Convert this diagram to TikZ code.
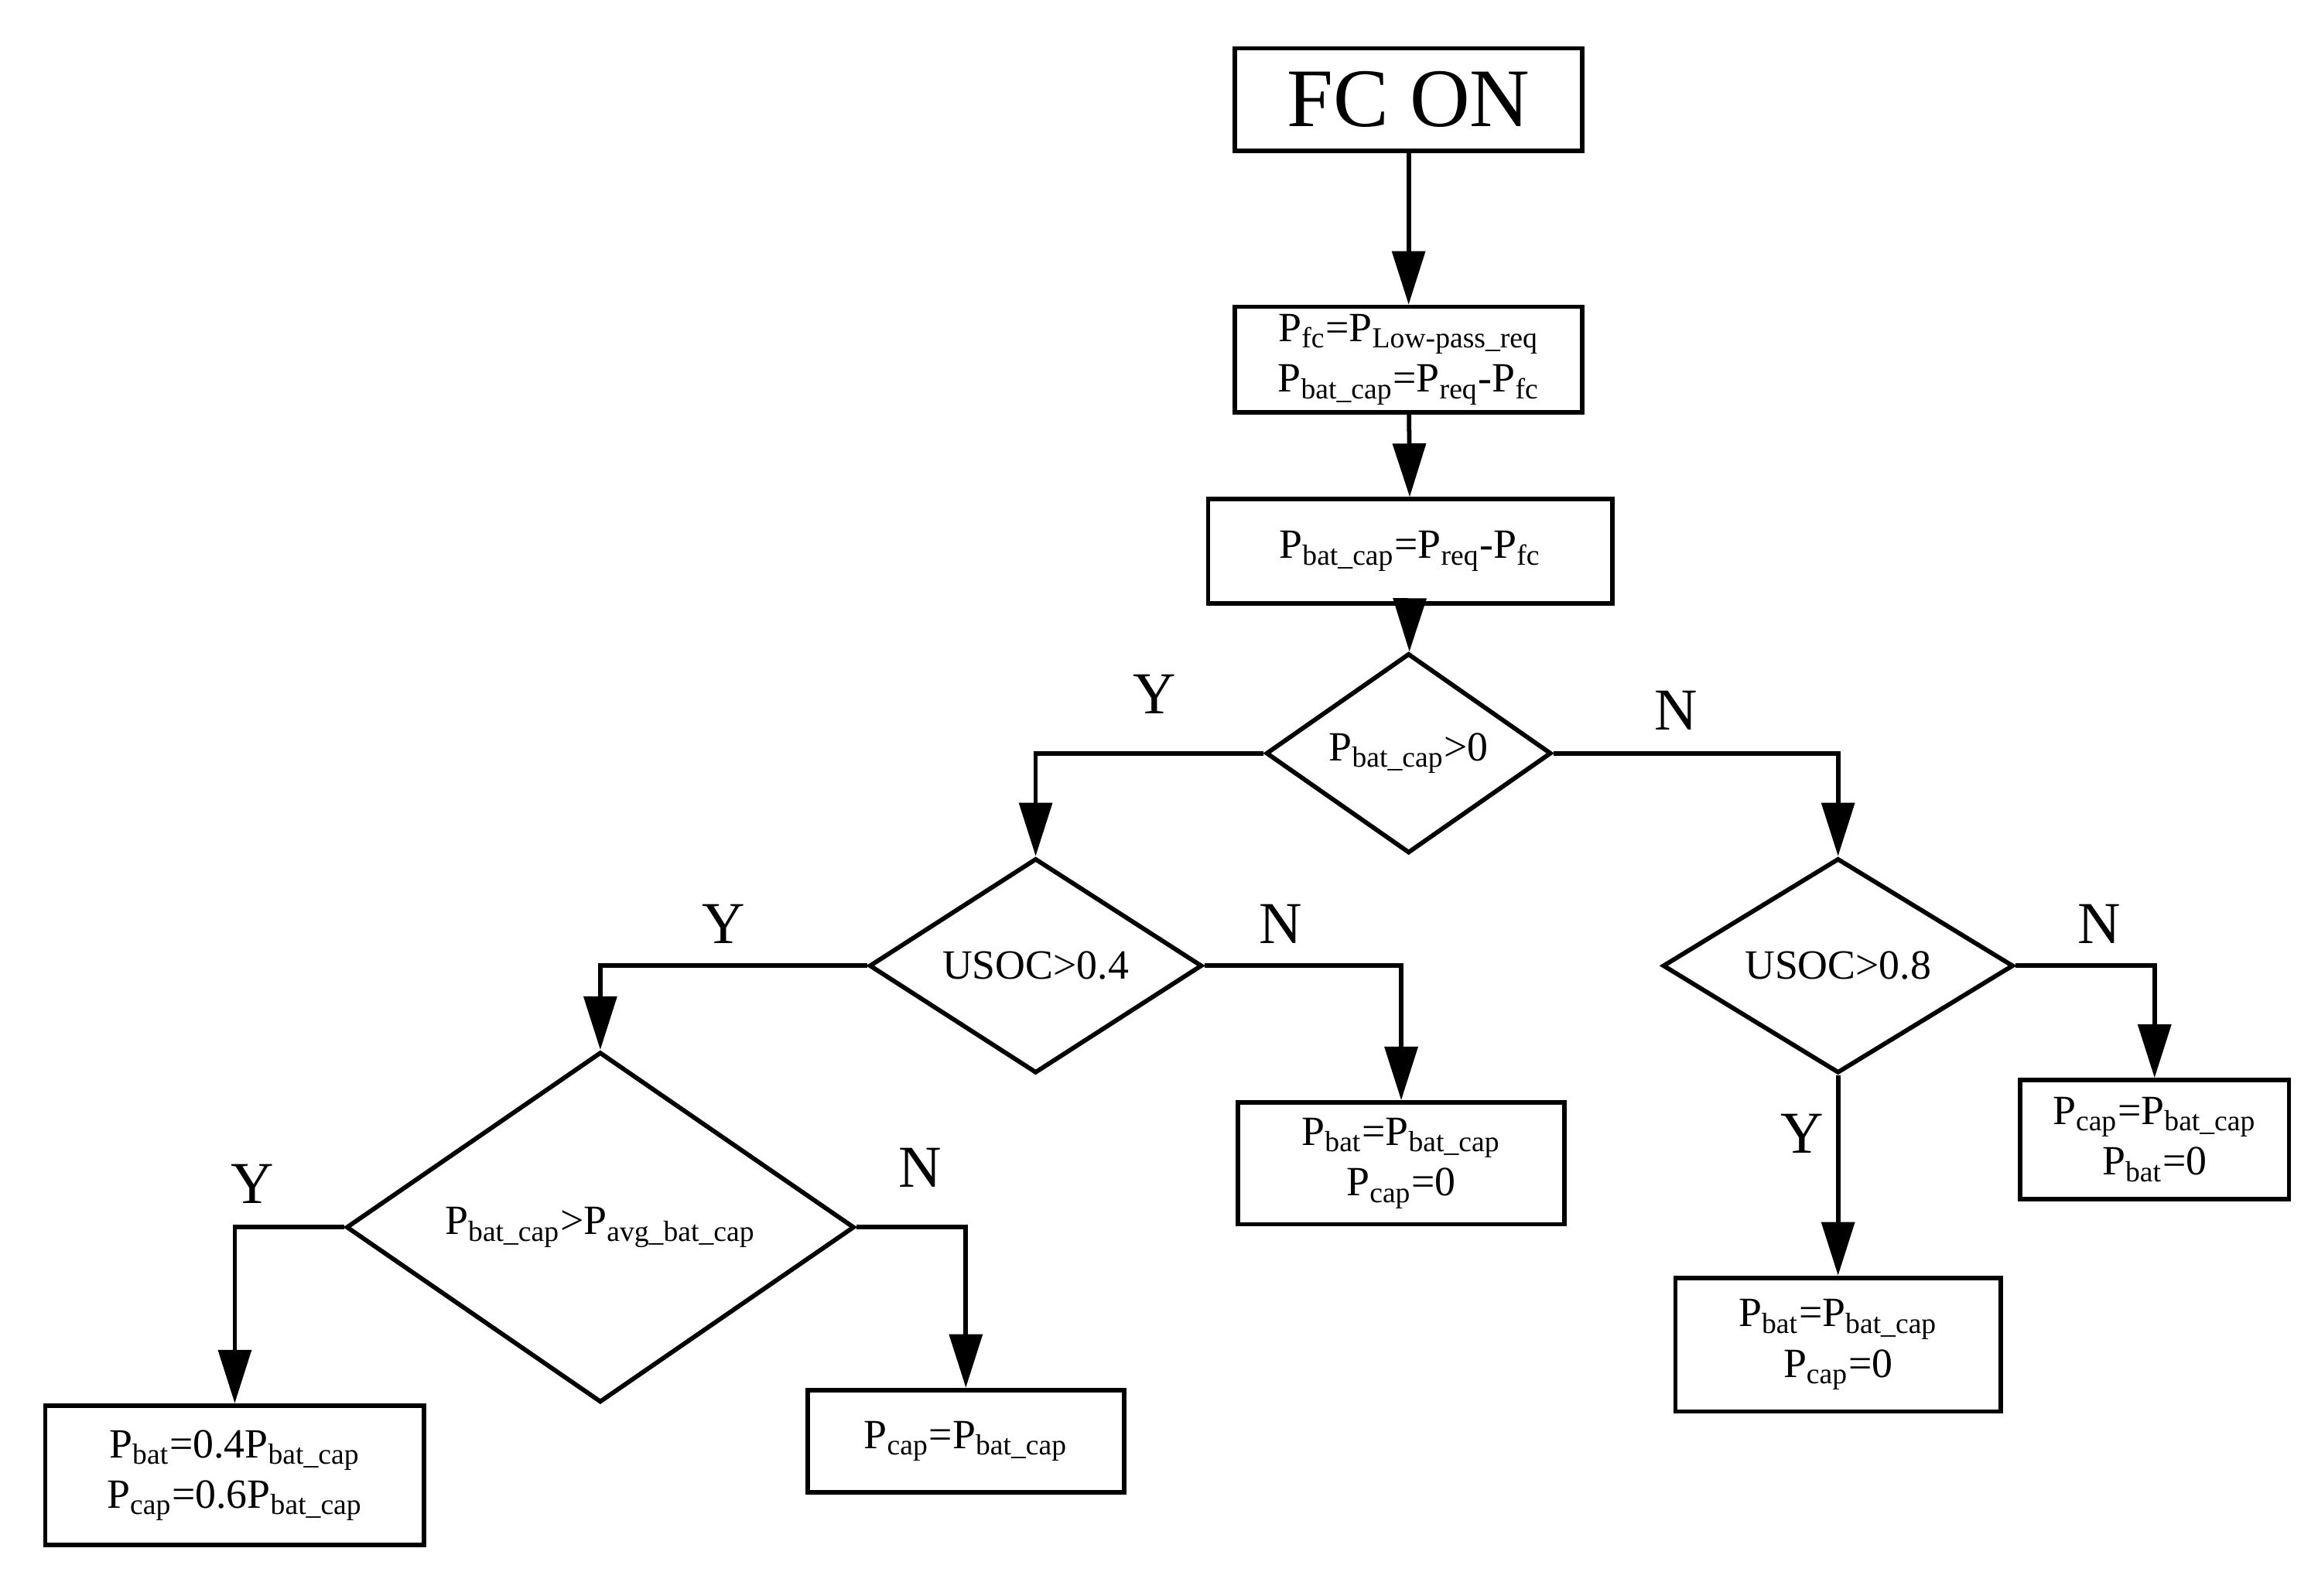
\documentclass[tikz,border=0pt]{standalone}
\usepackage{fontspec}
\setmainfont{Liberation Serif}
\usetikzlibrary{shapes.geometric,arrows.meta}
\newcommand{\sub}[1]{\textsubscript{#1}}
\begin{document}
\begin{tikzpicture}[x=0.5pt,y=-0.5pt,
  box/.style={draw,line width=1.5pt,inner sep=0pt,align=center,font=\fontsize{14}{17}\selectfont},
  dia/.style={draw,diamond,line width=1.5pt,inner sep=0pt,font=\fontsize{14}{17}\selectfont},
  arr/.style={line width=1.5pt,-{Triangle[length=18pt,width=11pt]}},
  lab/.style={font=\fontsize{20}{24}\selectfont}]
\useasboundingbox (0,0) rectangle (1560,1074);
\node[box,minimum width=117pt,minimum height=34.5pt,font=\fontsize{28}{32}\selectfont] (fc) at (948,67) {FC ON};
\node[box,minimum width=117pt,minimum height=35.5pt] (b2) at (948,242) {P\sub{fc}=P\sub{Low-pass\_req}\\P\sub{bat\_cap}=P\sub{req}-P\sub{fc}};
\node[box,minimum width=136pt,minimum height=35pt] (b3) at (949,371) {P\sub{bat\_cap}=P\sub{req}-P\sub{fc}};
\node[dia,minimum width=96pt,minimum height=54.5pt] (d1) at (948,507) {P\sub{bat\_cap}>0};
\node[dia,minimum width=112pt,minimum height=66pt] (d2) at (697,650) {USOC>0.4};
\node[dia,minimum width=118pt,minimum height=66pt] (d3) at (1237,650) {USOC>0.8};
\node[dia,minimum width=171pt,minimum height=66pt] (d4) at (404,826) {P\sub{bat\_cap}>P\sub{avg\_bat\_cap}};
\node[box,minimum width=110pt,minimum height=41pt] (b5) at (943,783) {P\sub{bat}=P\sub{bat\_cap}\\P\sub{cap}=0};
\node[box,minimum width=90.5pt,minimum height=40pt] (b6) at (1450,767) {P\sub{cap}=P\sub{bat\_cap}\\P\sub{bat}=0};
\node[box,minimum width=109.5pt,minimum height=45pt] (b7) at (1237,905) {P\sub{bat}=P\sub{bat\_cap}\\P\sub{cap}=0};
\node[box,minimum width=127.5pt,minimum height=47pt] (b8) at (158,993) {P\sub{bat}=0.4P\sub{bat\_cap}\\P\sub{cap}=0.6P\sub{bat\_cap}};
\node[box,minimum width=106.5pt,minimum height=34.5pt] (b9) at (650,970) {P\sub{cap}=P\sub{bat\_cap}};
\draw[arr] (fc) -- (b2);
\draw[arr] (b2) -- (b3);
\draw[arr] (b3) -- (d1);
\draw[arr] (d1.west) -| (d2.north);
\draw[arr] (d1.east) -| (d3.north);
\draw[arr] (d2.west) -| (d4.north);
\draw[arr] (d2.east) -| (b5.north);
\draw[arr] (d3.east) -| (b6.north);
\draw[arr] (d3.south) -- (b7.north);
\draw[arr] (d4.west) -| (b8.north);
\draw[arr] (d4.east) -| (b9.north);
\node[lab] (y1) at (777,467) {Y};
\node[lab] (n1) at (1128,478) {N};
\node[lab] (y2) at (487,622) {Y};
\node[lab] (n2) at (862,622) {N};
\node[lab] (n3) at (1413,622) {N};
\node[lab] (y3) at (1213,763) {Y};
\node[lab] (y4) at (170,797) {Y};
\node[lab] (n4) at (619,786) {N};
\end{tikzpicture}
\end{document}
